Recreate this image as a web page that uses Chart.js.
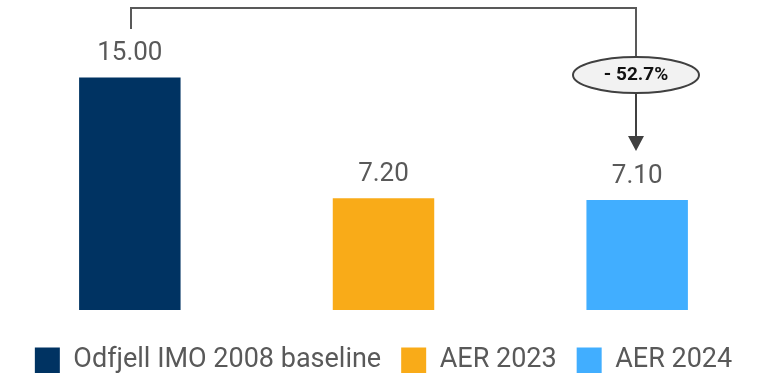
<!DOCTYPE html>
<html>
<head>
<meta charset="utf-8">
<script src="https://cdn.jsdelivr.net/npm/chart.js@4"></script>
<style>
  html, body { margin: 0; padding: 0; background: #fff; overflow: hidden; }
  /* legend runs past the bottom edge in the original, so the canvas is a bit taller than the window */
  #wrap { width: 766px; height: 384px; }
</style>
</head>
<body>
<div id="wrap"><canvas id="chart"></canvas></div>
<script>
const categories = ["Odfjell IMO 2008 baseline", "AER 2023", "AER 2024"];
const values = [15.0, 7.2, 7.1];
const colors = ["#003362", "#F9AB18", "#41AEFF"];
const changeLabel = "- 52.7%";

const textGrey = "#595959";

// value labels above each bar
const valueLabels = {
  id: "valueLabels",
  afterDatasetsDraw(chart) {
    const ctx = chart.ctx;
    const bars = chart.getDatasetMeta(0).data;
    ctx.save();
    ctx.font = "26px Roboto";
    ctx.fillStyle = textGrey;
    ctx.textAlign = "center";
    ctx.textBaseline = "alphabetic";
    bars.forEach((bar, i) => {
      ctx.fillText(values[i].toFixed(2), bar.x, bar.y - 17);
    });
    ctx.restore();
  }
};

// bracket from first to last bar with the change bubble and arrow
const changeBracket = {
  id: "changeBracket",
  afterDatasetsDraw(chart) {
    const ctx = chart.ctx;
    const bars = chart.getDatasetMeta(0).data;
    const x1 = Math.round(bars[0].x) + 1;
    const x2 = Math.round(bars[bars.length - 1].x) - 1;
    const top = 8;
    const cy = 75;
    const tipY = bars[bars.length - 1].y - 49;
    ctx.save();
    ctx.strokeStyle = "#595959";
    ctx.lineWidth = 2;
    ctx.beginPath();
    ctx.moveTo(x1, 29);
    ctx.lineTo(x1, top);
    ctx.lineTo(x2, top);
    ctx.lineTo(x2, cy);
    ctx.stroke();

    ctx.strokeStyle = "#404040";
    ctx.beginPath();
    ctx.moveTo(x2, cy);
    ctx.lineTo(x2, tipY - 14);
    ctx.stroke();
    ctx.fillStyle = "#404040";
    ctx.beginPath();
    ctx.moveTo(x2 - 8, tipY - 15);
    ctx.lineTo(x2 + 8, tipY - 15);
    ctx.lineTo(x2, tipY);
    ctx.closePath();
    ctx.fill();

    ctx.beginPath();
    ctx.ellipse(x2, cy, 63, 18, 0, 0, Math.PI * 2);
    ctx.fillStyle = "#F2F2F2";
    ctx.fill();
    ctx.strokeStyle = "#404040";
    ctx.stroke();

    ctx.fillStyle = "#111";
    ctx.font = "bold 19px Roboto";
    ctx.textAlign = "center";
    ctx.textBaseline = "middle";
    ctx.fillText(changeLabel, x2, cy);
    ctx.restore();
  }
};

new Chart(document.getElementById("chart"), {
  type: "bar",
  data: {
    labels: categories,
    datasets: [{
      data: values,
      backgroundColor: colors,
      categoryPercentage: 1,
      barPercentage: 0.4
    }]
  },
  options: {
    responsive: true,
    maintainAspectRatio: false,
    animation: false,
    layout: { padding: { left: 3, right: 2, top: 0, bottom: 0 } },
    scales: {
      x: { display: false },
      // small negative min leaves a gap between the bar bases and the legend
      y: { display: false, min: -1.1, max: 20 }
    },
    plugins: {
      tooltip: { enabled: false },
      legend: {
        position: "bottom",
        labels: {
          color: textGrey,
          font: { family: "Roboto", size: 27 },
          boxWidth: 25,
          boxHeight: 26,
          padding: 20,
          generateLabels: () => categories.map((c, i) => ({
            text: c,
            fillStyle: colors[i],
            strokeStyle: colors[i],
            lineWidth: 0,
            fontColor: textGrey,
            index: i
          }))
        }
      }
    }
  },
  plugins: [valueLabels, changeBracket]
});
</script>
</body>
</html>
